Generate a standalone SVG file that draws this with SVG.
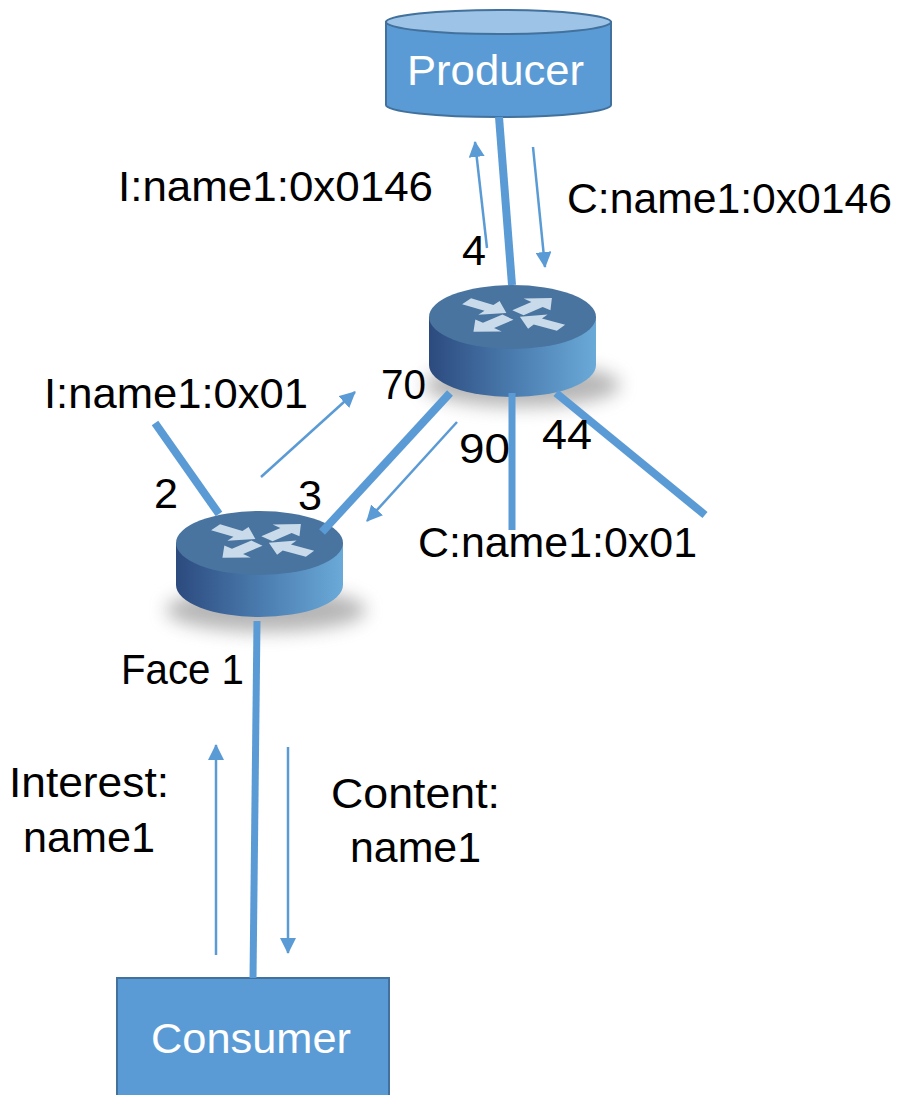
<svg xmlns="http://www.w3.org/2000/svg" xmlns:xlink="http://www.w3.org/1999/xlink" width="897" height="1095" viewBox="0 0 897 1095">
<style>
.lbl{font-family:"Liberation Sans",Arial,sans-serif;font-size:42px;fill:#000}
.wl{font-family:"Liberation Sans",Arial,sans-serif;font-size:43px;fill:#fff}
.thick{stroke:#5B9BD5;stroke-width:8;fill:none}
.thin{stroke:#5B9BD5;stroke-width:2.5;fill:none;marker-end:url(#ah)}
.top{fill:#48749F}
.shadow{fill:#7a7a7a;opacity:0.55}
.ico{fill:#C9DAEA}
</style>
<defs>
<marker id="ah" viewBox="0 0 16 16" refX="15" refY="8" markerWidth="16" markerHeight="16" markerUnits="userSpaceOnUse" orient="auto">
<path d="M0,0 L16,8 L0,16 Z" fill="#5B9BD5"/>
</marker>
<linearGradient id="side" x1="0" y1="0" x2="1" y2="0">
<stop offset="0" stop-color="#2C4A7E"/>
<stop offset="0.5" stop-color="#4A7BAE"/>
<stop offset="1" stop-color="#6AAAD8"/>
</linearGradient>
<filter id="blur" x="-50%" y="-100%" width="200%" height="300%">
<feGaussianBlur stdDeviation="9"/>
</filter>
<polygon id="ar" points="0,-8 27,-8 27,-19 48,0 27,19 27,8 0,8"/>
<g id="icon" transform="scale(1,0.44)">
<use xlink:href="#ar" href="#ar" class="ico" transform="rotate(-45) translate(7,0)"/>
<use xlink:href="#ar" href="#ar" class="ico" transform="rotate(136) translate(7,0)"/>
<use xlink:href="#ar" href="#ar" class="ico" transform="rotate(-146) translate(56,0) scale(-1,1)"/>
<use xlink:href="#ar" href="#ar" class="ico" transform="rotate(31) translate(56,0) scale(-1,1)"/>
</g>
</defs>
<rect width="897" height="1095" fill="#fff"/>

<g id="producer">
<path d="M386,22 L386,105 A112.5,12 0 0 0 611,105 L611,22 Z" fill="#5B9BD5" stroke="#41719C" stroke-width="2"/>
<ellipse cx="498.5" cy="22" rx="112.5" ry="12" fill="#9DC3E6" stroke="#41719C" stroke-width="2"/>
<text class="wl" x="407" y="85" textLength="177" lengthAdjust="spacingAndGlyphs">Producer</text>
</g>

<g id="router1">
<ellipse class="shadow" cx="522" cy="385" rx="98" ry="22" filter="url(#blur)"/>
<path d="M429,317 L429,365 A83.5,32 0 0 0 596,365 L596,317 Z" fill="url(#side)"/>
<ellipse class="top" cx="512.5" cy="317" rx="83.5" ry="32"/>
<use xlink:href="#icon" href="#icon" transform="translate(513,315)"/>
</g>

<g id="router2">
<ellipse class="shadow" cx="266" cy="610" rx="100" ry="22" filter="url(#blur)"/>
<path d="M176,543 L176,585 A83.5,32 0 0 0 343,585 L343,543 Z" fill="url(#side)"/>
<ellipse class="top" cx="259.5" cy="543" rx="83.5" ry="32"/>
<use xlink:href="#icon" href="#icon" transform="translate(262,541)"/>
</g>

<g id="consumer">
<rect x="117" y="978" width="272" height="130" fill="#5B9BD5" stroke="#41719C" stroke-width="2"/>
<text class="wl" x="151" y="1053" textLength="200" lengthAdjust="spacingAndGlyphs">Consumer</text>
</g>

<g id="connectors">
<path class="thick" d="M499,117 L512,285"/>
<path class="thick" d="M155,423 L219,514"/>
<path class="thick" d="M450,393 L322,532"/>
<path class="thick" style="stroke-width:7" d="M512,393 L512,530"/>
<path class="thick" d="M556,393 L705,515"/>
<path class="thick" style="stroke-width:7" d="M257,621 L253,978"/>
<path class="thin" d="M487,248 L475,142"/>
<path class="thin" d="M533,147 L545,267"/>
<path class="thin" d="M261,477 L355,392"/>
<path class="thin" d="M457,422 L367,521"/>
<path class="thin" d="M216,955 L216,745"/>
<path class="thin" d="M288,747 L288,953"/>
</g>

<g id="labels">
<text class="lbl" x="118" y="201" textLength="315" lengthAdjust="spacingAndGlyphs">I:name1:0x0146</text>
<text class="lbl" x="567" y="213" textLength="325" lengthAdjust="spacingAndGlyphs">C:name1:0x0146</text>
<text class="lbl" x="462" y="265" textLength="24" lengthAdjust="spacingAndGlyphs">4</text>
<text class="lbl" x="44" y="408" textLength="264" lengthAdjust="spacingAndGlyphs">I:name1:0x01</text>
<text class="lbl" x="381" y="399" textLength="45" lengthAdjust="spacingAndGlyphs">70</text>
<text class="lbl" x="459" y="463" textLength="51" lengthAdjust="spacingAndGlyphs">90</text>
<text class="lbl" x="542" y="449" textLength="50" lengthAdjust="spacingAndGlyphs">44</text>
<text class="lbl" x="154" y="508" textLength="24" lengthAdjust="spacingAndGlyphs">2</text>
<text class="lbl" x="298" y="510" textLength="24" lengthAdjust="spacingAndGlyphs">3</text>
<text class="lbl" x="418" y="557" textLength="279" lengthAdjust="spacingAndGlyphs">C:name1:0x01</text>
<text class="lbl" x="121" y="684" textLength="123" lengthAdjust="spacingAndGlyphs">Face 1</text>
<text class="lbl" x="9" y="797" textLength="160" lengthAdjust="spacingAndGlyphs">Interest:</text>
<text class="lbl" x="23" y="852" textLength="132" lengthAdjust="spacingAndGlyphs">name1</text>
<text class="lbl" x="331" y="808" textLength="169" lengthAdjust="spacingAndGlyphs">Content:</text>
<text class="lbl" x="350" y="862" textLength="131" lengthAdjust="spacingAndGlyphs">name1</text>
</g>
</svg>
